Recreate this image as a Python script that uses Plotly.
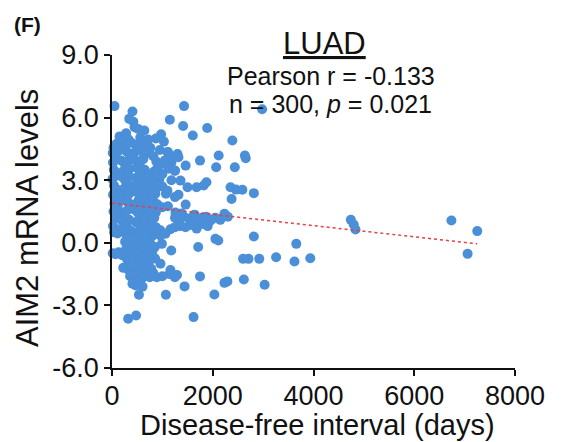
import plotly.graph_objects as go

# ---- data ----
x_upper = [150, 280, 560, 720, 330,
           30, 90, 200, 260, 380, 470, 610, 760, 950, 1030,
           15, 60, 130, 300, 360, 440, 520, 640, 700, 820, 1110, 1230, 1300,
           20, 70, 180, 250, 320, 470, 550, 620, 880, 960, 1050, 1180,
           35, 95, 230, 290, 350, 500, 570, 650, 830, 900, 1000, 1120, 1250,
           10, 60, 200, 260, 330, 470, 540, 610, 690, 770, 860, 940, 1360, 1180,
           40, 100, 240, 300, 370, 510, 580, 650, 720, 800, 880, 1000, 1100, 1500, 1680,
           20, 80, 210, 270, 340, 480, 550, 620, 700, 780, 860, 1070, 1250, 1320]
y_upper = [5.10, 5.25, 5.05, 4.95, 4.95,
           4.55, 4.75, 4.85, 4.60, 4.80, 4.70, 4.65, 4.55, 4.45, 4.85,
           4.30, 4.15, 4.40, 4.35, 4.10, 4.30, 4.45, 4.20, 4.35, 4.15, 4.35, 4.10, 4.25,
           3.85, 4.00, 3.95, 3.80, 3.90, 3.95, 3.80, 4.00, 3.90, 3.75, 3.95, 3.85,
           3.50, 3.35, 3.45, 3.30, 3.55, 3.60, 3.35, 3.50, 3.40, 3.60, 3.30, 3.55, 3.45,
           3.05, 3.20, 3.15, 3.00, 3.20, 3.10, 3.25, 3.00, 3.15, 2.95, 3.20, 3.05, 2.98, 3.00,
           2.75, 2.55, 2.60, 2.85, 2.70, 2.80, 2.65, 2.75, 2.55, 2.80, 2.60, 2.70, 2.50, 2.66, 2.66,
           2.30, 2.15, 2.25, 2.10, 2.35, 2.45, 2.15, 2.30, 2.40, 2.20, 2.35, 2.35, 2.19, 2.30]

x_middle = [50, 110, 180, 320, 390, 460, 530, 600, 670, 740, 820, 900, 1000, 1110,
            30, 90, 230, 300, 440, 510, 580, 650, 720, 790, 870, 1260, 1380, 1640,
            60, 130, 200, 340, 480, 550, 620, 690, 760, 840, 1250, 1330, 1430, 1530,
            1620, 1700, 1790, 1870, 1960, 2050, 2150, 2300,
            20, 80, 220, 290, 360, 500, 570, 640, 710, 790, 870, 960, 1160, 1250,
            1350, 1460, 1560, 1680, 1800, 1900,
            40, 110, 280, 350, 420, 490, 560, 630, 710, 790, 870, 960, 1060]
y_middle = [1.90, 1.75, 2.00, 1.95, 1.70, 1.85, 2.05, 1.75, 1.95, 1.80, 2.00, 1.85, 1.70, 1.75,
            1.50, 1.40, 1.45, 1.55, 1.60, 1.45, 1.55, 1.40, 1.60, 1.50, 1.45, 1.45, 1.40, 1.35,
            1.15, 1.25, 1.05, 1.10, 1.00, 1.20, 1.10, 1.25, 1.05, 1.20, 1.20, 1.05, 1.25, 1.15,
            1.30, 1.10, 1.20, 1.25, 1.07, 1.20, 1.10, 1.25,
            0.80, 0.65, 0.70, 0.85, 0.60, 0.95, 0.70, 0.85, 0.65, 0.90, 0.75, 0.60, 0.65, 0.75,
            0.80, 0.75, 0.85, 0.68, 0.90, 0.80,
            0.50, 0.45, 0.40, 0.25, 0.50, 0.30, 0.45, 0.20, 0.40, 0.30, 0.45, 0.35, 0.43]

x_lower = [260, 330, 400, 470, 540, 610, 680, 760, 850, 990,
           15, 70, 130, 200, 270, 340, 410, 480, 550, 620, 700, 800, 1176,
           300, 370, 440, 510, 580, 650, 730, 855, 962,
           224, 330, 400, 470, 540, 610, 680, 780,
           360, 430, 500, 580, 660, 750, 820, 890, 1000, 1160, 1290, 1141, 1248,
           406, 470, 540, 606]
y_lower = [0.05, -0.10, 0.10, -0.20, 0.00, -0.15, 0.10, -0.05, -0.20, -0.05,
           -0.50, -0.55, -0.45, -0.60, -0.35, -0.55, -0.40, -0.60, -0.45, -0.30, -0.55, -0.40, -0.37,
           -0.80, -0.95, -0.75, -1.00, -0.85, -0.70, -0.95, -0.75, -1.00,
           -1.20, -1.30, -1.15, -1.40, -1.25, -1.35, -1.15, -1.25,
           -1.60, -1.70, -1.55, -1.75, -1.60, -1.65, -1.45, -1.65, -1.60, -1.30, -1.54, -1.50, -1.65,
           -1.96, -2.05, -1.90, -2.10]

x_sparse = [50, 1430, 2980, 406, 342, 1148, 1412, 1890, 449, 642, 520, 1604, 975, 870,
            2389, 2638, 2655, 2118, 2068, 2438, 1747, 1875, 1820, 2353, 2460, 2588, 2816,
            2374, 1462, 2232, 4741, 4798, 4834, 6738, 7251, 7059, 2816, 3658, 1711, 2053,
            2110, 2602, 2709, 2923, 3258, 3622, 3936, 3030, 2617, 2232, 2290, 2032, 1747,
            1440, 1070, 1619, 321, 478, 535, 424, 1105, 1319, 1462, 1248]
y_sparse = [6.55, 6.55, 6.40, 6.29, 5.94, 5.90, 5.60, 5.50, 5.54, 5.38, 5.45, 5.14, 5.20, 5.00,
            4.90, 4.18, 4.05, 4.18, 3.62, 3.62, 3.94, 2.90, 2.75, 2.66, 2.55, 2.54, 2.38,
            2.10, 1.83, 1.39, 1.10, 0.88, 0.64, 1.07, 0.56, -0.53, 0.30, -0.05, -0.20, 0.19,
            0.11, -0.77, -0.77, -0.77, -0.69, -0.90, -0.74, -2.01, -1.76, -1.92, -1.85, -2.48, -1.61,
            -2.09, -2.49, -3.56, -3.64, -3.48, -2.49, 5.80, 4.34, 4.10, 3.70, 3.46]

fit_x = [0, 7250]
fit_y = [1.90, -0.05]

x_tick_vals = [0, 2000, 4000, 6000, 8000]
x_tick_text = ["0", "2000", "4000", "6000", "8000"]
y_tick_vals = [-6, -3, 0, 3, 6, 9]
y_tick_text = ["-6.0", "-3.0", "0.0", "3.0", "6.0", "9.0"]

days = x_upper + x_middle + x_lower + x_sparse
aim2 = y_upper + y_middle + y_lower + y_sparse

FONT = "Liberation Sans, Arial, sans-serif"

fig = go.Figure()
fig.add_trace(go.Scatter(
    x=days, y=aim2, mode="markers", cliponaxis=False,
    marker=dict(size=10, color="#4a8fd8", line=dict(width=0)),
    showlegend=False, hoverinfo="x+y"))
fig.add_trace(go.Scatter(
    x=fit_x, y=fit_y, mode="lines", cliponaxis=False,
    line=dict(color="rgb(228,62,70)", width=1.5, dash="dot"),
    showlegend=False, hoverinfo="skip"))

axis_common = dict(showline=True, linecolor="#111111", linewidth=1.5,
                   ticks="outside", ticklen=6, tickwidth=1.5, tickcolor="#111111",
                   showgrid=False, zeroline=False,
                   tickfont=dict(family=FONT, size=27, color="#111111"))

fig.update_layout(
    width=561, height=442,
    margin=dict(l=112, r=46, t=55, b=74),
    paper_bgcolor="white", plot_bgcolor="white",
    font=dict(family=FONT, color="#111111"),
    xaxis=dict(range=[0, 8000], tickvals=x_tick_vals, ticktext=x_tick_text,
               ticklabelstandoff=-3, **axis_common),
    yaxis=dict(range=[-6, 9], tickvals=y_tick_vals, ticktext=y_tick_text, **axis_common),
    annotations=[
        dict(text="<u>LUAD</u>", xref="paper", yref="paper", x=0.5285, y=1.038,
             xanchor="center", yanchor="middle", showarrow=False,
             font=dict(family=FONT, size=31, color="#111111")),
        dict(text="Pearson r = -0.133", xref="paper", yref="paper", x=0.543, y=0.933,
             xanchor="center", yanchor="middle", showarrow=False,
             font=dict(family=FONT, size=25, color="#111111")),
        dict(text="n = 300, <i>p</i> = 0.021", xref="paper", yref="paper", x=0.543, y=0.843,
             xanchor="center", yanchor="middle", showarrow=False,
             font=dict(family=FONT, size=25, color="#111111")),
        dict(text="<b>(F)</b>", xref="paper", yref="paper", x=-0.21, y=1.099,
             xanchor="center", yanchor="middle", showarrow=False,
             font=dict(family=FONT, size=21, color="#111111")),
        dict(text="Disease-free interval (days)", xref="paper", yref="paper", x=0.5087, y=-0.183,
             xanchor="center", yanchor="middle", showarrow=False,
             font=dict(family=FONT, size=29, color="#111111")),
        dict(text="AIM2 mRNA levels", xref="paper", yref="paper", x=-0.211, y=0.479,
             xanchor="center", yanchor="middle", showarrow=False, textangle=-90,
             font=dict(family=FONT, size=31, color="#111111")),
    ],
)

fig.write_html("out.html")
